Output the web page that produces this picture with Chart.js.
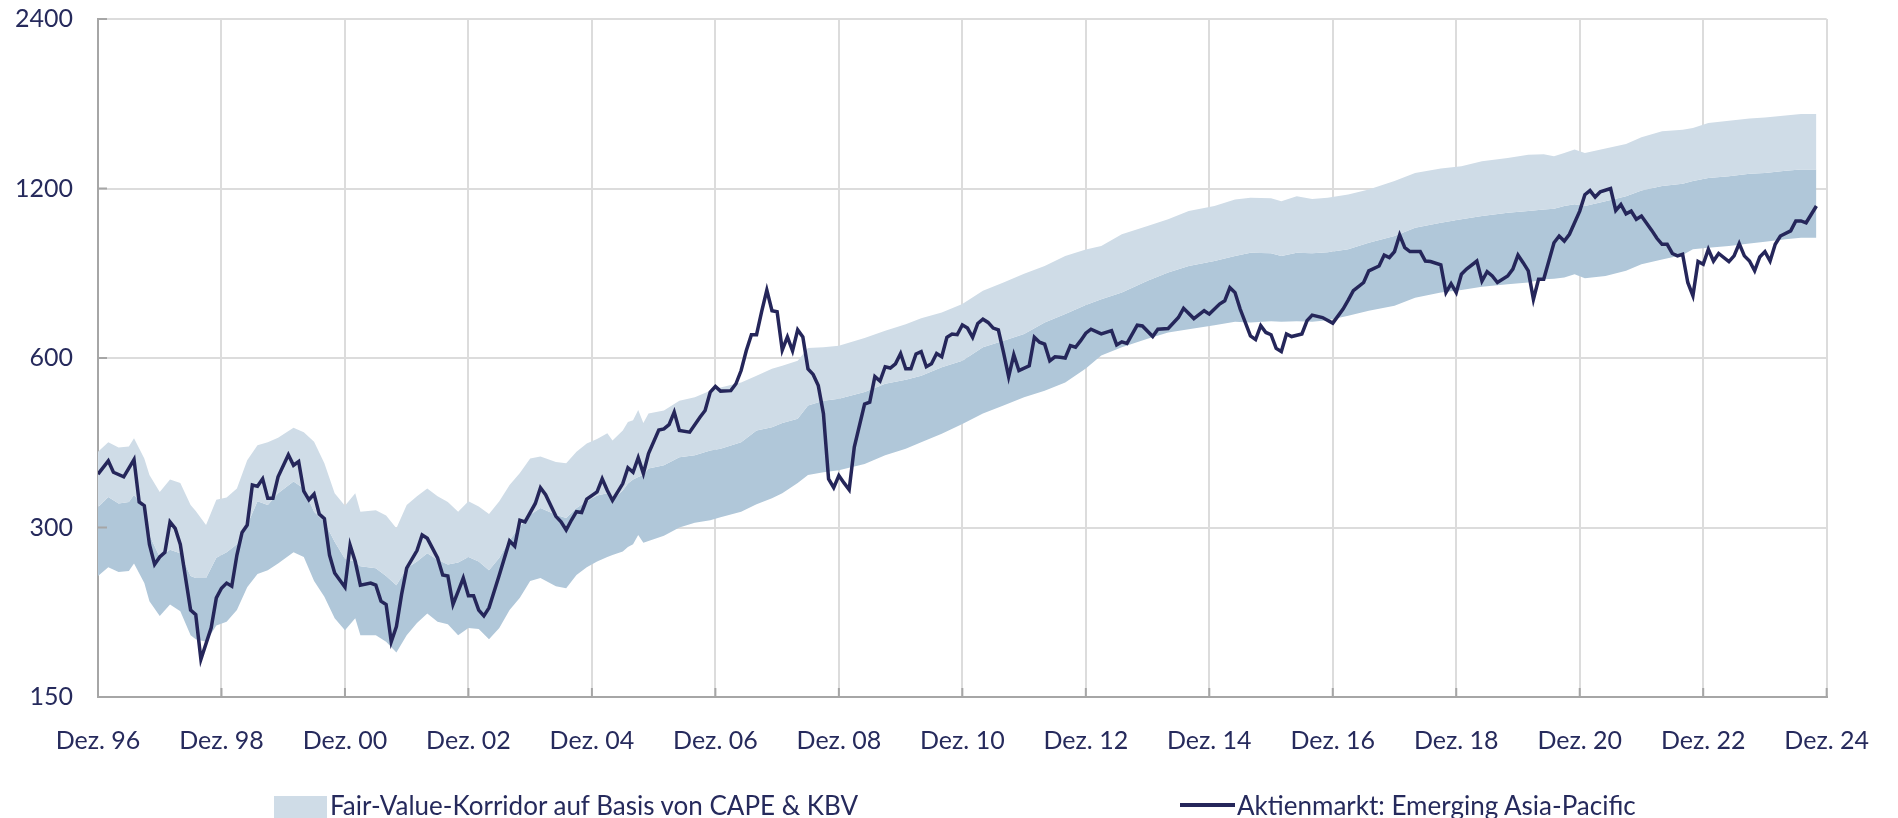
<!DOCTYPE html>
<html>
<head>
<meta charset="utf-8">
<script src="https://cdn.jsdelivr.net/npm/chart.js@4"></script>
<style>
  html, body { margin: 0; padding: 0; background: #fff; overflow: hidden; }
  #wrap { position: relative; width: 1898px; height: 818px; }
  #legend { position: absolute; left: 0; top: 0; width: 1898px; height: 818px; pointer-events: none;
            font-family: 'Lato', sans-serif; font-size: 26px; color: #262a5c; }
  .lg-box { position: absolute; left: 274px; top: 796px; width: 53px; height: 24px; background: #cfdce7; }
  .lg-line { position: absolute; left: 1180px; top: 803px; width: 55px; height: 4px; background: #25265a; }
  .lg-text { position: absolute; white-space: nowrap; line-height: 26px; }
</style>
</head>
<body>
<div id="wrap">
  <canvas id="chart" width="1898" height="818"></canvas>
  <div id="legend">
    <div class="lg-box"></div>
    <div class="lg-text" style="left:330px; top:792px;">Fair-Value-Korridor auf Basis von CAPE &amp; KBV</div>
    <div class="lg-line"></div>
    <div class="lg-text" style="left:1237px; top:792px;">Aktienmarkt: Emerging Asia-Pacific</div>
  </div>
</div>
<script>
// Monate seit Dez. 96
const xTickLabels = ['Dez. 96', 'Dez. 98', 'Dez. 00', 'Dez. 02', 'Dez. 04', 'Dez. 06', 'Dez. 08', 'Dez. 10',
                     'Dez. 12', 'Dez. 14', 'Dez. 16', 'Dez. 18', 'Dez. 20', 'Dez. 22', 'Dez. 24'];
const yTicks = [150, 300, 600, 1200, 2400];

// Fair-Value-Korridor: obere Grenze, Mitte (Übergang hell/dunkel), untere Grenze
const bandMonths = [0, 2, 4, 6, 7, 9, 10, 12, 14, 16, 18, 19, 21, 23, 25, 27, 29, 31, 33, 35, 38, 40, 42, 44, 46, 48,
  50, 51, 54, 56, 58, 60, 62, 64, 66, 68, 70, 72, 74, 76, 78, 80, 82, 84, 86, 89, 91, 93, 95, 97, 99, 100, 102, 103,
  104, 105, 106, 107, 110, 113, 116, 119, 121, 125, 128, 131, 133, 136, 138, 141, 144, 149, 153, 157, 160, 164, 168,
  172, 176, 180, 184, 188, 192, 195, 199, 204, 208, 212, 217, 221, 224, 228, 230, 233, 236, 239, 243, 247, 252, 256,
  261, 265, 269, 274, 278, 281, 283, 285, 287, 289, 293, 297, 300, 304, 308, 310, 313, 317, 321, 324, 328, 331, 334];
const bandUpper = [409, 425, 416, 418, 432, 398, 372, 347, 365, 360, 329, 321, 303, 336, 339, 352, 395, 420, 425, 433,
  451, 443, 426, 390, 345, 328, 345, 320, 322, 315, 299, 329, 341, 352, 341, 333, 320, 334, 327, 317, 334, 357, 375,
  398, 401, 392, 390, 409, 423, 431, 441, 428, 446, 462, 465, 485, 460, 478, 484, 504, 511, 525, 532, 543, 558, 574,
  581, 593, 625, 627, 631, 651, 671, 689, 706, 723, 748, 790, 817, 847, 874, 911, 935, 949, 995, 1029, 1058, 1094,
  1117, 1147, 1155, 1153, 1139, 1163, 1150, 1155, 1171, 1195, 1237, 1279, 1302, 1314, 1342, 1360, 1378, 1381, 1369,
  1388, 1407, 1388, 1413, 1440, 1480, 1516, 1526, 1537, 1568, 1583, 1597, 1605, 1618, 1627, 1627];
const bandMiddle = [326, 340, 331, 333, 343, 325, 291, 266, 274, 270, 246, 244, 244, 265, 271, 280, 303, 334, 329, 345,
  362, 352, 320, 307, 283, 264, 261, 256, 254, 246, 237, 254, 261, 270, 263, 258, 260, 266, 261, 252, 265, 285, 301,
  316, 325, 316, 312, 325, 334, 342, 345, 335, 349, 359, 365, 369, 372, 382, 387, 400, 403, 411, 414, 425, 446, 452,
  460, 468, 494, 504, 508, 522, 540, 549, 558, 578, 593, 627, 644, 662, 694, 718, 745, 763, 784, 823, 851, 874, 892,
  911, 923, 921, 911, 923, 921, 925, 936, 961, 988, 1022, 1043, 1058, 1072, 1087, 1094, 1101, 1105, 1117, 1125, 1117,
  1139, 1163, 1190, 1212, 1223, 1237, 1253, 1262, 1274, 1279, 1291, 1297, 1297];
const bandLower = [246, 255, 250, 251, 259, 239, 222, 209, 219, 213, 193, 190, 188, 201, 204, 214, 235, 248, 252, 259,
  271, 266, 241, 226, 207, 197, 207, 193, 193, 188, 180, 193, 203, 211, 204, 202, 193, 199, 198, 190, 199, 214, 225,
  241, 244, 236, 234, 247, 255, 261, 266, 268, 272, 277, 280, 291, 282, 284, 290, 300, 306, 309, 313, 320, 330, 338,
  345, 360, 372, 376, 379, 389, 403, 414, 425, 440, 458, 478, 494, 511, 525, 543, 575, 606, 627, 649, 666, 675, 686,
  696, 694, 697, 696, 697, 696, 700, 713, 728, 743, 768, 784, 792, 803, 811, 817, 828, 830, 834, 845, 831, 839, 857,
  880, 898, 914, 936, 942, 949, 958, 965, 975, 981, 981];

// Aktienmarkt: Emerging Asia-Pacific
const lineMonths = [0, 2, 3, 5, 7, 8, 9, 10, 11, 12, 13, 14, 15, 16, 18, 19, 20, 22, 23, 24, 25, 26, 27, 28, 29, 30,
  31, 32, 33, 34, 35, 37, 38, 39, 40, 41, 42, 43, 44, 45, 46, 48, 49, 50, 51, 53, 54, 55, 56, 57, 58, 59, 60, 62, 63,
  64, 66, 67, 68, 69, 70, 71, 72, 73, 74, 75, 76, 78, 80, 81, 82, 83, 85, 86, 87, 89, 90, 91, 92, 93, 94, 95, 97, 98,
  99, 100, 102, 103, 104, 105, 106, 107, 109, 110, 111, 112, 113, 115, 117, 118, 119, 120, 121, 123, 124, 125, 126,
  127, 128, 129, 130, 131, 132, 133, 134, 135, 136, 137, 138, 139, 140, 141, 142, 143, 144, 145, 146, 147, 149, 150,
  151, 152, 153, 154, 155, 156, 157, 158, 159, 160, 161, 162, 163, 164, 165, 166, 167, 168, 169, 170, 171, 172, 173,
  174, 175, 176, 177, 178, 179, 181, 182, 183, 184, 185, 186, 187, 188, 189, 190, 191, 192, 193, 195, 197, 198, 199,
  200, 202, 203, 205, 206, 208, 210, 211, 213, 215, 216, 218, 219, 220, 221, 222, 224, 225, 226, 227, 228, 229, 230,
  231, 232, 234, 235, 236, 238, 240, 242, 243, 244, 246, 247, 249, 250, 251, 252, 253, 254, 255, 257, 258, 259, 261,
  262, 263, 264, 265, 266, 268, 269, 270, 271, 272, 274, 275, 276, 277, 278, 279, 280, 281, 282, 283, 284, 285, 286,
  288, 289, 290, 291, 292, 294, 295, 296, 297, 298, 299, 300, 302, 303, 304, 305, 306, 307, 308, 309, 310, 311, 312,
  313, 314, 315, 317, 318, 319, 320, 321, 322, 323, 324, 325, 326, 327, 329, 330, 331, 332, 334];
const lineValues = [373, 394, 376, 369, 396, 333, 328, 280, 258, 266, 271, 307, 299, 280, 214, 210, 175, 199, 225, 234,
  239, 236, 268, 294, 303, 357, 355, 366, 338, 338, 369, 404, 387, 393, 348, 336, 344, 317, 311, 268, 249, 235, 279,
  261, 237, 239, 237, 222, 219, 188, 200, 228, 254, 273, 291, 287, 265, 247, 246, 219, 231, 244, 227, 227, 214, 209,
  216, 247, 284, 278, 309, 307, 331, 353, 343, 314, 307, 297, 309, 320, 319, 337, 347, 366, 349, 335, 359, 383, 376,
  399, 374, 406, 447, 449, 457, 481, 446, 443, 471, 484, 522, 534, 524, 525, 540, 570, 618, 660, 660, 726, 792, 728,
  725, 620, 654, 618, 673, 654, 574, 561, 536, 478, 366, 353, 371, 360, 350, 417, 497, 501, 556, 546, 579, 576, 586,
  611, 574, 574, 610, 616, 579, 586, 611, 603, 653, 662, 660, 687, 678, 653, 691, 703, 694, 678, 673, 614, 556, 608,
  570, 581, 653, 640, 635, 593, 603, 602, 600, 631, 627, 644, 664, 675, 662, 671, 633, 641, 637, 686, 684, 655, 675,
  677, 708, 735, 705, 728, 718, 748, 758, 800, 784, 733, 657, 647, 685, 666, 660, 624, 616, 662, 655, 662, 699, 715,
  708, 692, 733, 760, 790, 817, 857, 874, 914, 905, 927, 992, 942, 927, 927, 892, 890, 878, 784, 813, 784, 845, 863,
  892, 822, 854, 839, 817, 839, 863, 914, 886, 857, 763, 828, 828, 892, 961, 988, 968, 995, 1094, 1170, 1190, 1159,
  1184, 1200, 1097, 1124, 1082, 1094, 1058, 1072, 1011, 979, 955, 955, 920, 911, 917, 817, 774, 890, 880, 936, 892,
  920, 890, 911, 958, 911, 892, 857, 907, 927, 892, 955, 988, 1009, 1051, 1051, 1043, 1117];

const toPoints = (xs, ys) => xs.map((m, i) => ({ x: m, y: ys[i] }));

const textColor = '#262a5c';
const axisGray = '#a6a6a6';

// kurze Striche nach innen an Achsen
const innerTicks = {
  id: 'innerTicks',
  afterDatasetsDraw(chart) {
    const { ctx, chartArea, scales } = chart;
    ctx.save();
    ctx.strokeStyle = axisGray;
    ctx.lineWidth = 2;
    ctx.beginPath();
    yTicks.forEach(v => {
      const y = scales.y.getPixelForValue(v);
      ctx.moveTo(chartArea.left, y);
      ctx.lineTo(chartArea.left + 9, y);
    });
    xTickLabels.forEach((l, i) => {
      const x = scales.x.getPixelForValue(i * 24);
      ctx.moveTo(x, chartArea.bottom);
      ctx.lineTo(x, chartArea.bottom - 9);
    });
    ctx.stroke();
    ctx.restore();
  }
};

new Chart(document.getElementById('chart'), {
  type: 'line',
  data: {
    datasets: [
      {
        label: 'Aktienmarkt: Emerging Asia-Pacific',
        data: toPoints(lineMonths, lineValues),
        borderColor: '#25265a',
        borderWidth: 3.5,
        pointRadius: 0,
        tension: 0,
        fill: false,
        order: 0
      },
      {
        label: 'Fair-Value-Korridor oben',
        data: toPoints(bandMonths, bandUpper),
        borderWidth: 0,
        pointRadius: 0,
        backgroundColor: '#cfdce7',
        fill: '+1',
        order: 1
      },
      {
        label: 'Fair-Value-Korridor Mitte',
        data: toPoints(bandMonths, bandMiddle),
        borderWidth: 0,
        pointRadius: 0,
        backgroundColor: '#b0c7d9',
        fill: '+1',
        order: 2
      },
      {
        label: 'Fair-Value-Korridor unten',
        data: toPoints(bandMonths, bandLower),
        borderWidth: 0,
        pointRadius: 0,
        fill: false,
        order: 3
      }
    ]
  },
  options: {
    responsive: false,
    animation: false,
    layout: { padding: { left: 0, right: 68, top: 19, bottom: 61 } },
    plugins: {
      legend: { display: false },
      tooltip: { enabled: false }
    },
    scales: {
      x: {
        type: 'linear',
        min: 0,
        max: 336,
        afterBuildTicks: axis => { axis.ticks = xTickLabels.map((l, i) => ({ value: i * 24 })); },
        afterFit: axis => { axis.height = 60; },
        ticks: {
          autoSkip: false,
          maxRotation: 0,
          padding: 29,
          color: textColor,
          font: { family: 'Lato', size: 25 },
          callback: (v) => xTickLabels[Math.round(v / 24)]
        },
        grid: { color: '#dcdcdc', lineWidth: 2, drawTicks: false },
        border: { display: true, color: axisGray, width: 2 }
      },
      y: {
        type: 'logarithmic',
        min: 150,
        max: 2400,
        afterBuildTicks: axis => { axis.ticks = yTicks.map(v => ({ value: v })); },
        afterFit: axis => { axis.width = 98; axis.paddingTop = 0; axis.paddingBottom = 0; },
        ticks: {
          padding: 25,
          color: textColor,
          font: { family: 'Lato', size: 25 },
          callback: (v) => String(v)
        },
        grid: { color: '#dcdcdc', lineWidth: 2, drawTicks: false },
        border: { display: true, color: axisGray, width: 2 }
      }
    }
  },
  plugins: [innerTicks]
});
</script>
</body>
</html>
